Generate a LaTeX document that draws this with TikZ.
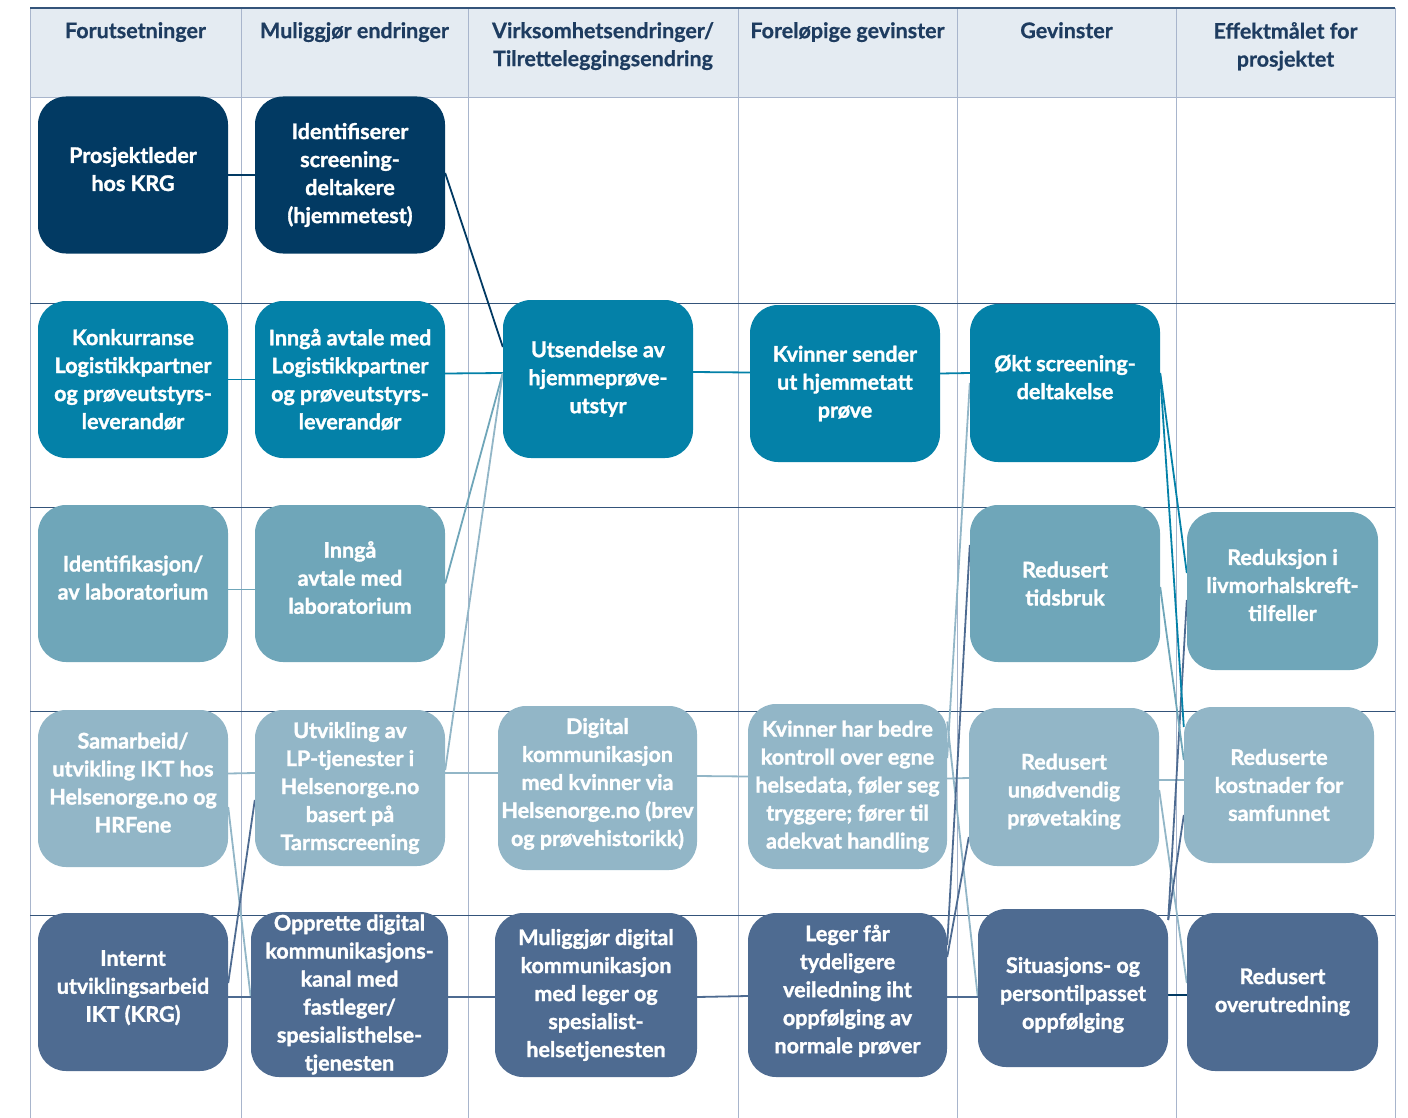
\documentclass[tikz,border=0pt]{standalone}
\usepackage{fontspec}
\setmainfont{Lato}
\newfontfamily\boxfont{Lato}[BoldFeatures={FakeBold=1.5}]
\newfontfamily\hdrfont{Lato}[BoldFeatures={FakeBold=0.6}]
\definecolor{cNavy}{RGB}{2,58,99}
\definecolor{cTeal}{RGB}{4,129,168}
\definecolor{cMid}{RGB}{111,166,185}
\definecolor{cLight}{RGB}{146,182,199}
\definecolor{cSlate}{RGB}{78,107,145}
\definecolor{hdrFill}{RGB}{228,235,242}
\definecolor{hdrText}{RGB}{30,60,96}
\definecolor{rowLine}{RGB}{52,84,122}
\definecolor{colLine}{RGB}{168,181,204}
\pgfdeclarelayer{gridlayer}
\pgfdeclarelayer{linklayer}
\pgfsetlayers{gridlayer,linklayer,main}
% raise / lower the text block inside a box
\newcommand{\txtup}{\\[-16pt]}
\newcommand{\txtdown}{\\[-38pt]}
\newcommand{\txtdownsmall}{\\[-33pt]}
\begin{document}
\begin{tikzpicture}[x=1pt,y=-1pt,
  box/.style={rounded corners=28pt, text=white, align=center, inner sep=0pt,
    font=\boxfont\fontsize{21.5}{28}\selectfont\bfseries, minimum width=190pt, minimum height=157pt},
  hdr/.style={text=hdrText, align=center, inner sep=0pt, anchor=north,
    font=\hdrfont\fontsize{21.5}{28}\selectfont\bfseries},
  link/.style={line width=1.8pt},
  vline/.style={draw=colLine, line width=1pt},
  hline/.style={draw=rowLine, line width=1pt}]
\useasboundingbox (0,0) rectangle (1408,1118);

% ---------- nodes ----------
\node[box, fill=cNavy] (a1) at (133,175) {Prosjektleder\\hos KRG\txtup};
\node[box, fill=cNavy] (b1) at (350,175) {Identifiserer\\screening-\\deltakere\\(hjemmetest)};

\node[box, fill=cTeal] (a2) at (133,379.5) {Konkurranse\\Logistikkpartner\\og prøveutstyrs-\\leverandør};
\node[box, fill=cTeal] (b2) at (350,379.5) {Inngå avtale med\\Logistikkpartner\\og prøveutstyrs-\\leverandør};
\node[box, fill=cTeal, minimum height=158pt] (c2) at (598,379) {Utsendelse av\\hjemmeprøve-\\utstyr};
\node[box, fill=cTeal] (d2) at (845,383.5) {Kvinner sender\\ut hjemmetatt\\prøve};
\node[box, fill=cTeal, minimum height=158pt] (e2) at (1065,383) {Økt screening-\\deltakelse\txtup};

\node[box, fill=cMid] (a3) at (133,583.5) {Identifikasjon/\\av laboratorium\txtup};
\node[box, fill=cMid] (b3) at (350,583.5) {Inngå\\avtale med\\laboratorium\txtup};
\node[box, fill=cMid] (e3) at (1065,583.5) {Redusert\\tidsbruk};
\node[box, fill=cMid, minimum width=191pt, minimum height=158pt] (f3) at (1282.5,591) {Reduksjon i\\livmorhalskreft-\\tilfeller\txtup};

\node[box, fill=cLight] (a4) at (133,788.5) {Samarbeid/\\utvikling IKT hos\\Helsenorge.no og\\HRFene\txtup};
\node[box, fill=cLight, minimum height=156pt] (b4) at (350,788) {Utvikling av\\LP-tjenester i\\Helsenorge.no\\basert på\\Tarmscreening};
\node[box, fill=cLight, minimum width=199pt, minimum height=164pt] (c4) at (597.5,788) {Digital\\kommunikasjon\\med kvinner via\\Helsenorge.no (brev\\og prøvehistorikk)\txtup};
\node[box, fill=cLight, minimum width=199pt, minimum height=165pt] (d4) at (847.5,786.5) {Kvinner har bedre\\kontroll over egne\\helsedata, føler seg\\tryggere; fører til\\adekvat handling};
\node[box, fill=cLight, minimum height=158pt] (e4) at (1064,787) {Redusert\\unødvendig\\prøvetaking\txtdownsmall};
\node[box, fill=cLight, minimum height=156pt] (f4) at (1279,785) {Reduserte\\kostnader for\\samfunnet};

\node[box, fill=cSlate, minimum height=158pt] (a5) at (133,992) {Internt\\utviklingsarbeid\\IKT (KRG)\txtup};
\node[box, fill=cSlate, minimum width=197pt, minimum height=165pt] (b5) at (349.5,994.5) {Opprette digital\\kommunikasjons-\\kanal med\\fastleger/\\spesialisthelse-\\tjenesten};
\node[box, fill=cSlate, minimum width=202pt, minimum height=164pt] (c5) at (596,995) {Muliggjør digital\\kommunikasjon\\med leger og\\spesialist-\\helsetjenesten};
\node[box, fill=cSlate, minimum width=199pt, minimum height=164pt] (d5) at (847.5,995) {Leger får\\tydeligere\\veiledning iht\\oppfølging av\\normale prøver\txtup};
\node[box, fill=cSlate, minimum height=158pt] (e5) at (1073,988) {Situasjons- og\\persontilpasset\\oppfølging\txtdown};
\node[box, fill=cSlate, minimum width=191pt, minimum height=158pt] (f5) at (1282.5,992) {Redusert\\overutredning};

% ---------- header texts ----------
\node[hdr] (h1) at (135.5,22) {Forutsetninger};
\node[hdr] (h2) at (354.5,22) {Muliggjør endringer};
\node[hdr] (h3) at (603,22) {Virksomhetsendringer/\\Tilretteleggingsendring};
\node[hdr] (h4) at (847.5,22) {Foreløpige gevinster};
\node[hdr] (h5) at (1066.5,22) {Gevinster};
\node[hdr] (h6) at (1285.5,22) {Effektmålet for\\prosjektet};

% ---------- grid ----------
\begin{pgfonlayer}{gridlayer}
  \fill[hdrFill] (30,8) rectangle (1395,98);
  \foreach \xx in {30,241,468,738,957,1176,1395}
    \draw[vline] (\xx,8) -- (\xx,1118);
  \draw[vline] (30,98) -- (1395,98);
  \foreach \yy in {303,507,711,915}
    \draw[hline] (30,\yy) -- (1395,\yy);
  \draw[draw=rowLine, line width=1.2pt] (30,8) -- (1395,8);
\end{pgfonlayer}

% ---------- connectors ----------
\begin{pgfonlayer}{linklayer}
  \draw[link, cNavy] (a1.east) -- (b1.west);
  \draw[link, cNavy] ([yshift=2pt]b1.east) -- ([yshift=32pt]c2.west);

  \draw[link, cTeal] (a2.east) -- (b2.west);
  \draw[link, cTeal] ([yshift=6pt]b2.east) -- ([yshift=6pt]c2.west);
  \draw[link, cTeal] ([yshift=7pt]c2.east) -- ([yshift=11pt]d2.west);
  \draw[link, cTeal] ([yshift=10pt]d2.west -| d2.east) -- ([yshift=10pt]e2.west);

  \draw[link, cMid] ([yshift=-6pt]a3.east) -- ([yshift=-6pt]b3.west);
  \draw[link, cMid] (b3.east) -- ([yshift=6pt]c2.west);

  \draw[link, cLight] ([yshift=15pt]a4.east) -- ([yshift=15pt]b4.west);
  \draw[link, cLight] ([yshift=18pt]b4.east) -- ([yshift=6pt]c2.west);
  \draw[link, cLight] ([yshift=15pt]b4.east) -- ([yshift=15pt]c4.west);
  \draw[link, cLight] ([yshift=12pt]c4.east) -- ([yshift=10pt]d4.west);
  \draw[link, cLight] ([yshift=8pt]d4.east) -- ([yshift=9pt]e4.west);
  \draw[link, cLight] ([yshift=7pt]e4.east) -- ([yshift=5pt]f4.west);
  \draw[link, cLight] ([yshift=-18.5pt]a4.east) -- ([yshift=-3.5pt]b5.west);
  \draw[link, cLight] ([yshift=28.5pt]d4.east) -- (e2.west);
  \draw[link, cLight] ([yshift=65pt]d4.east) -- ([yshift=-9pt]e5.west);
  \draw[link, cLight] ([yshift=-3pt]e4.east) -- ([yshift=9pt]f5.west);

  \draw[link, cSlate] ([yshift=9pt]a5.east) -- ([yshift=-12pt]b4.west);
  \draw[link, cSlate] ([yshift=-5pt]a5.east) -- ([yshift=-2.5pt]b5.west);
  \draw[link, cSlate] ([yshift=-2.5pt]b5.east) -- ([yshift=-2pt]c5.west);
  \draw[link, cSlate] ([yshift=-2pt]c5.east) -- ([yshift=-1pt]d5.west);
  \draw[link, cSlate] ([yshift=-2pt]d5.east) -- ([yshift=-9pt]e5.west);
  \draw[link, cSlate] ([yshift=50pt]d5.east) -- ([yshift=38.5pt]e3.west);
  \draw[link, cSlate] ([yshift=38pt]d5.east) -- ([yshift=-50pt]e4.west);
  \draw[link, cSlate] ([yshift=68pt]e5.east) -- ([yshift=-9pt]f3.west);
  \draw[link, cSlate] ([yshift=68pt]e5.east) -- ([yshift=-30pt]f4.west);
  \draw[link, cNavy] ([yshift=-7pt]e5.east) -- ([yshift=-3pt]f5.west);

  \draw[link, cTeal] ([yshift=10pt]e2.east) -- ([yshift=18pt]f3.west);
  \draw[link, cTeal] ([yshift=8pt]e2.east) -- ([yshift=58pt]f4.west);
  \draw[link, cMid] ([yshift=-3.5pt]e3.east) -- ([yshift=25pt]f4.west);
\end{pgfonlayer}
\end{tikzpicture}
\end{document}
